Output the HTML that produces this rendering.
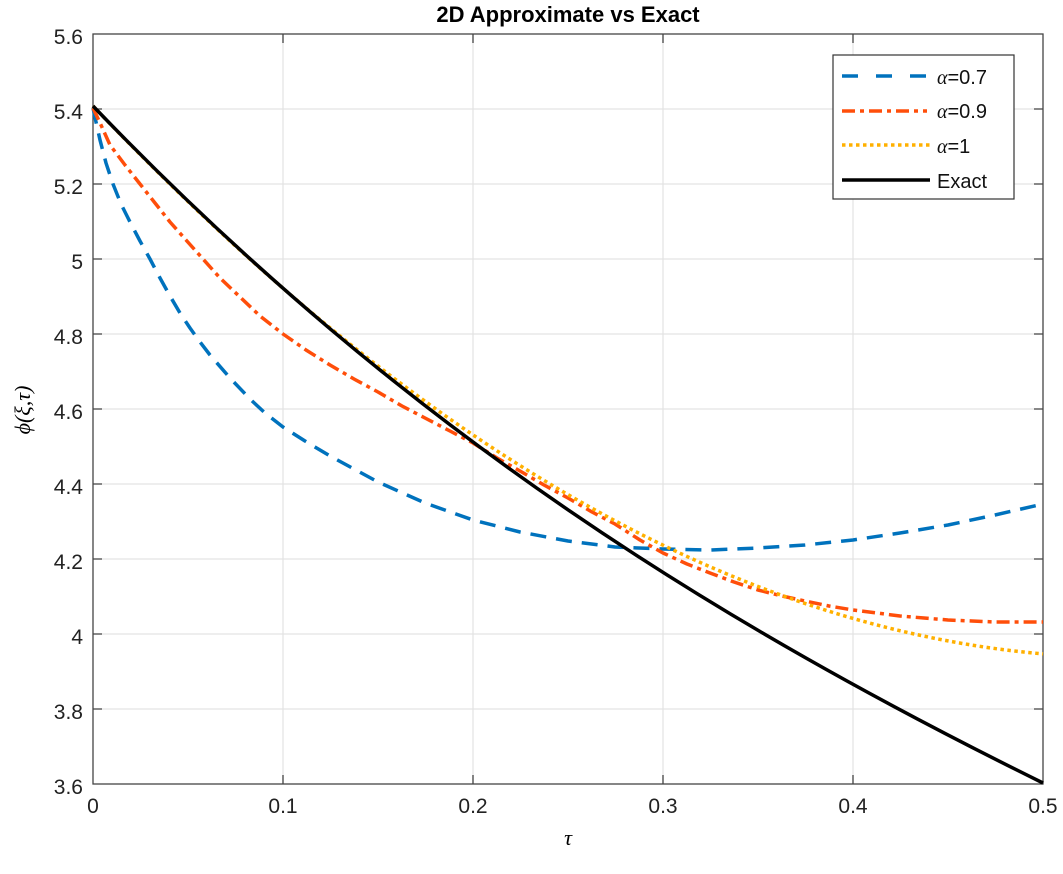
<!DOCTYPE html>
<html><head><meta charset="utf-8"><style>
body{margin:0;background:#fff}
svg{font-family:"Liberation Sans",sans-serif}
</style></head><body>
<svg width="1063" height="869" viewBox="0 0 1063 869">
<rect width="1063" height="869" fill="#fff"/>
<g stroke="#e3e3e3" stroke-width="1.2">
<line x1="283" y1="34" x2="283" y2="784"/><line x1="473" y1="34" x2="473" y2="784"/>
<line x1="663" y1="34" x2="663" y2="784"/><line x1="853" y1="34" x2="853" y2="784"/>
<line x1="93" y1="109" x2="1043" y2="109"/><line x1="93" y1="184" x2="1043" y2="184"/>
<line x1="93" y1="259" x2="1043" y2="259"/><line x1="93" y1="334" x2="1043" y2="334"/>
<line x1="93" y1="409" x2="1043" y2="409"/><line x1="93" y1="484" x2="1043" y2="484"/>
<line x1="93" y1="559" x2="1043" y2="559"/><line x1="93" y1="634" x2="1043" y2="634"/>
<line x1="93" y1="709" x2="1043" y2="709"/>
</g>
<g stroke="#444" stroke-width="1.3">
<rect x="93" y="34" width="950" height="750" fill="none"/>
<path d="M283 784v-9M473 784v-9M663 784v-9M853 784v-9M283 34v9M473 34v9M663 34v9M853 34v9
M93 109h9M93 184h9M93 259h9M93 334h9M93 409h9M93 484h9M93 559h9M93 634h9M93 709h9
M1043 109h-9M1043 184h-9M1043 259h-9M1043 334h-9M1043 409h-9M1043 484h-9M1043 559h-9M1043 634h-9M1043 709h-9"/>
</g>
<g fill="none" stroke-width="3.5" stroke-linejoin="round">
<polyline stroke="#0072BD" stroke-dasharray="16,10" points="93,108 96,122 100,140 106,163 113,184 121,204 130,222 140,241 150,259 160,278 170,296 180,313 190,328 200,342 210,355 230,378 250,399 265,413 283,427 305,441 330,456 378,482 425,503 473,520 520,532 568,541 615,547 663,549 710,550 758,548 805,545 853,540 900,533 948,525 995,515 1043,504"/>
<polyline stroke="#FF4E0A" stroke-dasharray="13,5,4,5" points="93,108 101,125 110,145 125,165 140,184 155,203 170,222 186,240 203,259 220,278 240,297 260,316 283,334 306,350 330,365 354,379 378,392 402,406 425,418 450,431 473,443 497,458 520,471 544,485 568,498 592,512 615,524 640,540 663,553 687,564 710,573 734,582 758,590 782,596 805,601 829,606 853,610 877,613 900,616 924,618 948,620 972,621 995,622 1043,622"/>
<path stroke="#FFB000" stroke-dasharray="3.5,3.5" d="M93,106 C409.67,439.06 726.33,626.6 1043,653.9"/>
<path stroke="#000" d="M93,106 C409.67,436.3 726.33,626.8 1043,783"/>
</g>
<g font-size="21" fill="#222">
<g text-anchor="end"><text x="83" y="44">5.6</text><text x="83" y="119">5.4</text><text x="83" y="194">5.2</text><text x="83" y="269">5</text><text x="83" y="344">4.8</text><text x="83" y="419">4.6</text><text x="83" y="494">4.4</text><text x="83" y="569">4.2</text><text x="83" y="644">4</text><text x="83" y="719">3.8</text><text x="83" y="794">3.6</text></g>
<g text-anchor="middle"><text x="93" y="813">0</text><text x="283" y="813">0.1</text><text x="473" y="813">0.2</text><text x="663" y="813">0.3</text><text x="853" y="813">0.4</text><text x="1043" y="813">0.5</text></g>
</g>
<text x="568" y="845" font-size="22" font-family="Liberation Serif,serif" font-style="italic" text-anchor="middle">τ</text>
<text transform="translate(30,410) rotate(-90)" font-size="22" font-family="Liberation Serif,serif" font-style="italic" text-anchor="middle">ϕ(ξ,τ)</text>
<text x="568" y="22" font-size="22" font-weight="bold" text-anchor="middle">2D Approximate vs Exact</text>
<rect x="833" y="55" width="181" height="144" fill="#fff" stroke="#333" stroke-width="1.2"/>
<g stroke-width="3.5">
<line x1="842" y1="76" x2="927" y2="76" stroke="#0072BD" stroke-dasharray="16,18"/>
<line x1="842" y1="111" x2="927" y2="111" stroke="#FF4E0A" stroke-dasharray="13,5,4,5"/>
<line x1="842" y1="145" x2="930" y2="145" stroke="#FFB000" stroke-dasharray="3.5,3.5"/>
<line x1="842" y1="180" x2="930" y2="180" stroke="#000"/>
</g>
<g font-size="20" fill="#111">
<text x="937" y="84"><tspan font-family="Liberation Serif,serif" font-style="italic">α</tspan>=0.7</text>
<text x="937" y="118"><tspan font-family="Liberation Serif,serif" font-style="italic">α</tspan>=0.9</text>
<text x="937" y="153"><tspan font-family="Liberation Serif,serif" font-style="italic">α</tspan>=1</text>
<text x="937" y="188">Exact</text>
</g>
</svg>
</body></html>
